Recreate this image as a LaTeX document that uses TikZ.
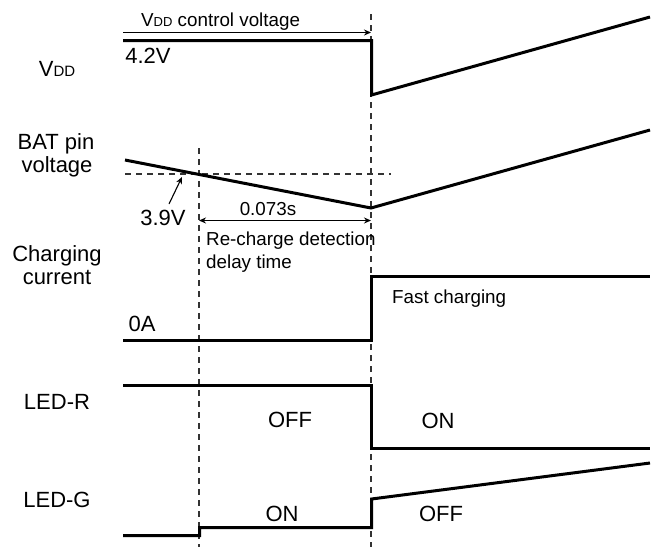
\documentclass[tikz,border=0pt]{standalone}
\usepackage{fontspec}
\setmainfont{Liberation Sans}
\usetikzlibrary{arrows.meta}
\begin{document}
\begin{tikzpicture}[x=1pt,y=-1pt,
  sig/.style={line width=3pt, line join=miter},
  guide/.style={line width=1.3pt, draw=black!80, dash pattern=on 6pt off 5pt},
  dimline/.style={line width=1.1pt},
  tipend/.style={-{Stealth[length=7pt,width=6pt]}},
  tipboth/.style={{Stealth[length=7pt,width=6pt]}-{Stealth[length=7pt,width=6pt]}},
  big/.style={font=\fontsize{22}{26}\selectfont, inner sep=0pt},
  small/.style={font=\fontsize{18.8}{22}\selectfont, inner sep=0pt}
]
\useasboundingbox (0,0) rectangle (655,547);

% guide lines
\draw[guide] (199,148) -- (199,547);
\draw[guide] (371,14) -- (371,547);
\draw[guide] (125,174) -- (391,174);

% left labels
\node[big] (lvdd) at (57,69) {V{\fontsize{15}{15}\selectfont DD}};
\node[big] (lbat1) at (56,144) {BAT pin};
\node[big] (lbat2) at (57,167) {voltage};
\node[big] (lch1) at (57,256) {Charging};
\node[big] (lch2) at (57,277) {current};
\node[big] (lledr) at (57,402) {LED-R};
\node[big] (lledg) at (57,500) {LED-G};

% VDD
\draw[sig] (123,40.5) -- (371.5,40.5) -- (371.5,95) -- (650,17);
\coordinate (ca) at (123,32.5);
\coordinate (cb) at (371,32.5);
\draw[dimline,tipend] (ca) -- (cb);
\node[small, anchor=base west] (tvdd) at (141,26) {V{\fontsize{13}{13}\selectfont DD} control voltage};
\node[big] (t42) at (148,56) {4.2V};

% BAT
\draw[sig] (125,160) -- (371,208) -- (650,130);
\node[big] (t39) at (163,218) {3.9V};
\coordinate (c39) at (182,177);
\draw[dimline,tipend] (169,204) -- (c39);
\coordinate (da) at (199,220.5);
\coordinate (db) at (371,220.5);
\draw[dimline,tipboth] (da) -- (db);
\node[small] (t073) at (268,209) {0.073s};
\node[small, anchor=base west] (trc1) at (206,245) {Re-charge detection};
\node[small, anchor=base west] (trc2) at (206,268) {delay time};

% Charging current
\draw[sig] (123,340.5) -- (371.5,340.5) -- (371.5,276.5) -- (650,276.5);
\node[big] (t0a) at (142,324) {0A};
\node[small, anchor=base west] (tfast) at (392,303) {Fast charging};

% LED-R
\draw[sig] (123,385.5) -- (371.5,385.5) -- (371.5,448.5) -- (650,448.5);
\node[big] (roff) at (290,420) {OFF};
\node[big] (ron) at (438,421) {ON};

% LED-G
\draw[sig] (123,535.5) -- (199.5,535.5) -- (199.5,527.5) -- (371.5,527.5) -- (371.5,499) -- (650,463);
\node[big] (gon) at (282,514) {ON};
\node[big] (goff) at (441,514) {OFF};
\end{tikzpicture}
\end{document}
